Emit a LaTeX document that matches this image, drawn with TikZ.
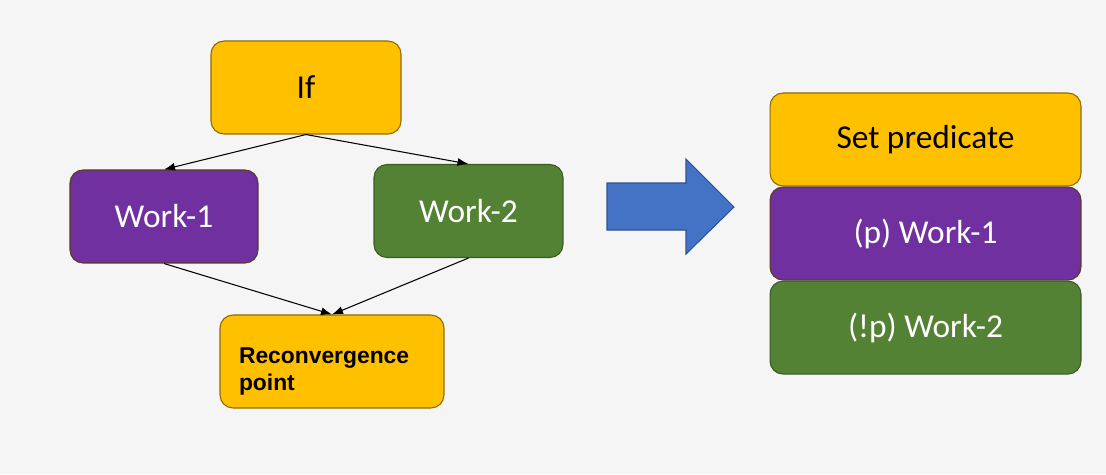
\documentclass[tikz,border=0pt]{standalone}
\usepackage{fontspec}
\setmainfont{Carlito}
\newfontfamily\arialfont{Liberation Sans}
\usetikzlibrary{positioning}
\usetikzlibrary{arrows.meta}

\definecolor{bgcol}{HTML}{F5F5F5}
\definecolor{goldbox}{HTML}{FFC000}
\definecolor{goldline}{HTML}{8C6A00}
\definecolor{purplebox}{HTML}{7030A0}
\definecolor{purpleline}{HTML}{5A3A20}
\definecolor{greenbox}{HTML}{548235}
\definecolor{greenline}{HTML}{3A5A25}
\definecolor{bluearrow}{HTML}{4472C4}
\definecolor{blueline}{HTML}{2F528F}

\tikzset{
  block/.style={draw, line width=0.6pt, rounded corners=0.26cm,
    minimum height=1.86cm, font=\fontsize{19}{22}\selectfont},
  ifbox/.style={block, fill=goldbox, draw=goldline, text=black},
  workone/.style={block, fill=purplebox, draw=purpleline, text=white},
  worktwo/.style={block, fill=greenbox, draw=greenline, text=white},
  flow/.style={-{Latex[length=2.2mm,width=1.6mm]}, line width=0.6pt, black}
}

\begin{document}
\begin{tikzpicture}[x=0.02cm, y=-0.02cm]

  \fill[bgcol] (0,0) rectangle (1106,474);
  \useasboundingbox (0,0) rectangle (1106,474);

  % left: branching code
  \node[ifbox, minimum width=3.8cm] (if) at (306, 87.5) {If};
  \node[workone, minimum width=3.76cm] (work1) at (164, 216.5) {Work-1};
  \node[worktwo, minimum width=3.78cm] (work2) at (468.5, 211) {Work-2};
  \node[ifbox, minimum width=4.48cm, text width=3.72cm, inner xsep=0.38cm,
        align=left, font=\arialfont\bfseries\fontsize{13}{15.4}\selectfont]
        (reconv) at (332, 361.5) {\rule{0pt}{20pt}Reconvergence\\point};

  \draw[flow] (if.south) -- (work1.north);
  \draw[flow] (if.south) -- (work2.north);
  \draw[flow] (work1.south) -- (reconv.north);
  \draw[flow] (work2.south) -- (reconv.north);

  % big arrow
  \filldraw[fill=bluearrow, draw=blueline, line width=0.6pt]
    (607,183) -- (686,183) -- (686,159) -- (734,207) -- (686,254)
    -- (686,230) -- (607,230) -- cycle;

  % right: predicated code
  \node[ifbox, minimum width=6.22cm] (pred) at (925.5, 139.5) {Set predicate};
  \node[workone, minimum width=6.22cm, below=0pt of pred] (pwork1) {(p) Work-1};
  \node[worktwo, minimum width=6.22cm, below=0pt of pwork1] (npwork2) {(!p) Work-2};

\end{tikzpicture}
\end{document}
